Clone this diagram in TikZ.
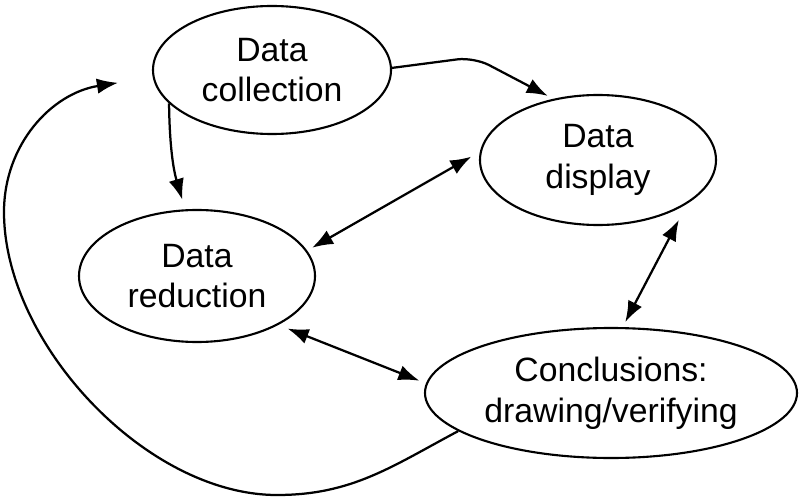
\documentclass[tikz,border=0pt]{standalone}
\usepackage{fontspec}
\setmainfont{Liberation Sans}
\usetikzlibrary{arrows.meta,shapes.geometric}
\tikzset{el/.style={ellipse,draw,line width=1.5pt,inner sep=0pt,align=center,font=\fontsize{24}{29}\selectfont},
 flow/.style={-{Latex[length=15pt,width=11pt]},line width=1.6pt},
 both/.style={{Latex[length=15pt,width=11pt]}-{Latex[length=15pt,width=11pt]},line width=1.6pt}}

\begin{document}
\begin{tikzpicture}
\useasboundingbox (0,0) rectangle (20,-12.5);
\node[el,minimum width=5.95cm,minimum height=3.2cm] (coll) at (6.8,-1.75) {Data\\collection};
\node[el,minimum width=5.9cm,minimum height=3.25cm] (disp) at (14.95,-4) {Data\\display};
\node[el,minimum width=5.9cm,minimum height=3.3cm] (red) at (4.925,-6.9) {Data\\reduction};
\node[el,minimum width=9.3cm,minimum height=3.25cm] (conc) at (15.275,-9.825) {Conclusions:\\drawing/verifying};
\coordinate (back) at (2.95,-2.07);
% arrows between the stages
\draw[flow,rounded corners=12pt] (coll.1) -- (11.85,-1.43) -- ([yshift=3pt]disp.130);
\draw[flow,shorten >=7pt] (coll.198) to[bend right=8] (red.100);
\draw[both,shorten <=4pt,shorten >=7pt] (red.13) -- (disp.176);
\draw[both,shorten <=4pt,shorten >=13pt] (conc.80) -- (disp.-26);
\draw[both,shorten <=7pt,shorten >=5pt] (red.-31) -- (conc.177);
% loop back to collection
\draw[flow] (conc.194) to[out=208,in=0] (6.925,-12.375) to[out=180,in=-90,looseness=.85] (0.1,-5.3) to[out=90,in=189] (back);
\end{tikzpicture}
\end{document}
